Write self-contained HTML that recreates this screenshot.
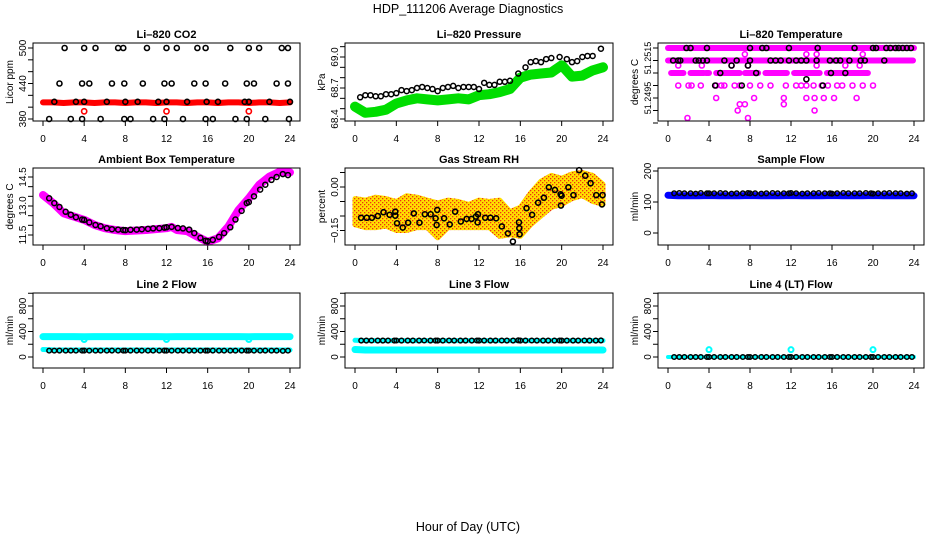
<!DOCTYPE html>
<html><head><meta charset="utf-8"><style>
html,body{margin:0;padding:0;background:#fff;}
svg{display:block;font-family:"Liberation Sans",Arial,sans-serif;}
</style></head><body>
<svg id="chart" width="936" height="540" viewBox="0 0 936 540">
<defs>
<pattern id="rhpat" width="4" height="4" patternUnits="userSpaceOnUse">
<rect width="4" height="4" fill="#ffe000"/><rect x="0" y="0" width="1.3" height="1.3" fill="#f03010"/><rect x="2" y="2" width="1.3" height="1.3" fill="#f03010"/>
</pattern>
</defs>
<text x="468" y="13" text-anchor="middle" font-size="12.5">HDP_111206  Average Diagnostics</text>
<text x="468" y="531" text-anchor="middle" font-size="12.5">Hour of Day (UTC)</text>
<g id="layer"></g>
</svg>
<script>
// ---- shared x grid (hours) ----
const gridX=[0.6,1.1,1.6,2.2,2.7,3.2,3.8,4.0,4.5,5.1,5.6,6.2,6.7,7.3,7.8,8.0,8.5,9.1,9.6,10.2,10.7,11.3,11.8,12.0,12.5,13.1,13.6,14.2,14.7,15.3,15.8,16.0,16.5,17.1,17.6,18.2,18.7,19.3,19.8,20.0,20.5,21.1,21.6,22.2,22.7,23.3,23.8];
const hours=[0,1,2,3,4,5,6,7,8,9,10,11,12,13,14,15,16,17,18,19,20,21,22,23,24];
const xTicks=[0,4,8,12,16,20,24];
// ---- CO2 ----
const co2RedY=[408,408,407,408,408,407,408,408,407,408,408,407,408,408,407,408,408,407,408,408,407,408,408,407,408];
const co2RedOutX=[4,12,20];
const co2RedOutY=[393,393,393];
const co2BlackX=[2.1,4,5.1,7.3,7.8,10.1,12,13,15,15.8,18.2,20,21,23.2,23.8,1.6,3.8,4.5,6.7,7.9,9.7,11.8,12.5,14.7,15.8,17.7,19.8,20.5,22.7,23.8,1.1,3.2,4,6.2,8,9.2,11.2,12,14,15.9,17,19.6,20,22,24,0.6,2.7,3.8,5.6,7.9,8.5,10.7,11.8,13.6,15.8,16.5,18.7,19.8,21.6,23.9];
const co2BlackY=[500,500,500,500,500,500,500,500,500,500,500,500,500,500,500,440,440,440,440,440,440,440,440,440,440,440,440,440,440,440,409,409,409,409,409,409,409,409,409,409,409,409,409,409,409,380,380,380,380,380,380,380,380,380,380,380,380,380,380,380];
// ---- Pressure ----
const presGreenY=[68.52,68.46,68.47,68.49,68.55,68.58,68.6,68.59,68.58,68.59,68.6,68.59,68.63,68.64,68.66,68.69,68.8,68.83,68.84,68.85,68.92,68.81,68.82,68.87,68.9];
const presBlackX=[0.5,1,1.5,2,2.5,3,3.5,4,4.5,5,5.5,6,6.5,7,7.5,8,8.5,9,9.5,10,10.5,11,11.5,12,12.5,13,13.5,14,14.5,15,15.8,16.5,17,17.5,18,18.5,19,19.8,20.5,21,21.5,22,22.5,23,23.8];
const presBlackY=[68.61,68.63,68.63,68.62,68.62,68.64,68.64,68.65,68.68,68.67,68.68,68.7,68.71,68.7,68.69,68.67,68.7,68.71,68.72,68.7,68.71,68.71,68.71,68.69,68.75,68.73,68.73,68.76,68.76,68.77,68.84,68.9,68.95,68.96,68.95,68.98,68.99,69.0,68.98,68.95,68.96,69.0,69.01,69.01,69.08];
// ---- Li-820 temperature ----
const tmpBandY=[51.2515,51.2514,51.2513,51.2513,51.2513,51.2513,51.2513,51.2513,51.2513];
const tmpBandStart=[0,0,0.3,2.2,3.7,4.7,7.5,9.5,12.3];
const tmpBandEnd=[24,23.9,1.5,3.5,4.0,7.0,8.8,11.6,14.8];
const tmpBand2Start=[15.5];
const tmpBand2End=[19.5];
const tmpMagX=[1,2,2.3,3.2,4.7,5.2,5.5,6.5,7,8,9,10,11.5,12.5,13,13.5,14.2,15,15.6,16.5,17,18,19,20,4.7,8.4,11.3,13.5,14.3,15.2,16.2,18.4,7,7.5,11.3,6.8,14.3,1.9,7.8,7.5,13.5,14.5,19,1,3.3,6.2,7.8,14.5,17.3,18.7];
const tmpMagY=[51.2512,51.2512,51.2512,51.2512,51.2512,51.2512,51.2512,51.2512,51.2512,51.2512,51.2512,51.2512,51.2512,51.2512,51.2512,51.2512,51.2512,51.2512,51.2512,51.2512,51.2512,51.2512,51.2512,51.2512,51.2511,51.2511,51.2511,51.2511,51.2511,51.2511,51.2511,51.2511,51.25105,51.25105,51.25105,51.251,51.251,51.25094,51.25094,51.25145,51.25145,51.25145,51.25145,51.25136,51.25136,51.25136,51.25136,51.25136,51.25136,51.25136];
const tmpBlackX=[1.8,2.2,3.8,8,9.2,9.6,11.8,14.6,18.2,20.0,20.3,21.3,21.7,22.2,22.5,22.9,23.3,23.7,0.5,1,1.2,2.7,3,3.4,3.8,5.5,6.7,8,10,10.5,11,11.8,12.5,13,13.5,14.5,15.8,16.4,16.8,17.7,18.8,19.2,21.1,6.2,7.8,5.1,8.6,15.9,17.3,4.6,7.2,15.1,13.5];
const tmpBlackY=[51.2515,51.2515,51.2515,51.2515,51.2515,51.2515,51.2515,51.2515,51.2515,51.2515,51.2515,51.2515,51.2515,51.2515,51.2515,51.2515,51.2515,51.2515,51.2514,51.2514,51.2514,51.2514,51.2514,51.2514,51.2514,51.2514,51.2514,51.2514,51.2514,51.2514,51.2514,51.2514,51.2514,51.2514,51.2514,51.2514,51.2514,51.2514,51.2514,51.2514,51.2514,51.2514,51.2514,51.25136,51.25136,51.2513,51.2513,51.2513,51.2513,51.2512,51.2512,51.2512,51.25125];
// ---- Ambient box temperature ----
const ambMagX=[0,1,2,3,4,5,6,7,8,10,12,12.5,13,14,15,16,17,18,19,20,21,22,23,24];
const ambMagY=[13.57,13.14,12.62,12.45,12.28,12.02,11.85,11.76,11.7,11.76,11.85,11.92,11.76,11.7,11.41,11.15,11.33,11.93,12.79,13.4,14.09,14.52,14.77,14.74];
const ambBlackY=[13.4,13.15,12.95,12.7,12.55,12.42,12.3,12.28,12.15,12.02,11.95,11.85,11.8,11.78,11.76,11.75,11.77,11.78,11.8,11.82,11.84,11.85,11.88,11.9,11.92,11.86,11.84,11.78,11.6,11.35,11.2,11.18,11.25,11.4,11.6,11.9,12.3,12.75,13.15,13.2,13.5,13.85,14.1,14.35,14.5,14.65,14.6];
// ---- Gas stream RH ----
const rhHi=[-0.04,-0.045,-0.035,-0.04,-0.05,-0.03,-0.035,-0.045,-0.055,-0.045,-0.05,-0.06,-0.045,-0.05,-0.045,-0.085,-0.07,-0.02,0.02,0.04,0.03,0.045,0.05,0.04,0.01];
const rhLo=[-0.13,-0.14,-0.14,-0.135,-0.15,-0.15,-0.14,-0.14,-0.175,-0.14,-0.14,-0.14,-0.14,-0.14,-0.17,-0.165,-0.17,-0.13,-0.1,-0.07,-0.06,-0.04,-0.03,-0.05,-0.06];
const rhBlackX=[0.59,1.14,1.63,2.21,2.76,3.35,3.9,3.9,4.07,4.62,5.14,5.69,6.24,6.76,7.32,7.8,7.9,7.96,8.62,9.17,9.69,10.24,10.8,11.28,11.7,11.87,11.9,12.6,13.1,13.66,14.21,14.8,15.28,15.87,15.9,15.93,16.6,17.14,17.72,18.28,18.76,19.35,19.9,19.93,19.99,20.65,21.14,21.69,22.28,22.8,23.35,23.9,23.96];
const rhBlackY=[-0.106,-0.106,-0.106,-0.1,-0.087,-0.096,-0.099,-0.085,-0.125,-0.14,-0.123,-0.091,-0.123,-0.094,-0.094,-0.108,-0.131,-0.079,-0.108,-0.129,-0.085,-0.119,-0.11,-0.11,-0.102,-0.122,-0.094,-0.106,-0.106,-0.108,-0.136,-0.16,-0.188,-0.122,-0.142,-0.163,-0.073,-0.096,-0.054,-0.037,-0.001,-0.01,-0.025,-0.064,-0.03,-0.001,-0.028,0.058,0.039,0.013,-0.028,-0.06,-0.028];
// ---- Flows ----
const sampleBlue=[122,120,120,120,121,120,120,120,121,120,120,120,121,120,120,120,121,120,120,120,121,120,120,120,120];
const sampleBlack=[128,129,128,128,127,129,128,128,128,129,128,127,128,128,129,128,128,127,128,129,128,128,128,129,128,127,128,128,129,128,128,127,128,129,128,128,128,129,128,127,128,128,129,128,128,127,128];
const line2CyanHi=[320,320,320,320,318,320,320,320,320,320,320,320,318,320,320,320,320,320,320,320,318,320,320,320,320];
const line2DipX=[4,12,20];
const line2DipY=[275,275,275];
const line2CyanLo=[118,112,110,110,110,110,110,110,110,110,110,110,110,110,110,110,110,110,110,110,110,110,110,110,110];
const line2Black=[100,100,101,100,100,100,100,101,100,100,100,100,101,100,100,100,100,101,100,100,100,100,101,100,100,100,100,101,100,100,100,100,101,100,100,100,100,101,100,100,100,100,101,100,100,96,100];
const line3CyanHi=[262,258,258,258,258,258,258,258,258,258,258,258,258,258,258,258,258,258,258,258,258,258,258,258,258];
const line3CyanLo=[118,110,110,110,110,110,110,110,110,110,110,110,110,110,110,110,110,110,110,110,110,110,110,110,110];
const line3Black=[258,258,259,258,258,258,258,259,258,258,258,258,259,258,258,258,258,259,258,258,258,258,259,258,258,258,258,259,258,258,262,258,258,259,258,258,258,258,259,258,258,258,258,259,258,258,260];
const line4Cyan=[0,0,0,0,0,0,0,0,0,0,0,0,0,0,0,0,0,0,0,0,0,0,0,0,0];
const line4SpikeX=[4,12,20];
const line4SpikeY=[115,115,115];
const line4Black=[0,0,0,0,0,0,0,0,0,0,0,0,0,0,0,0,0,0,0,0,0,0,0,0,0,0,0,0,0,0,0,0,0,0,0,0,0,0,0,0,0,0,0,0,0,0,0];

const NS='http://www.w3.org/2000/svg';
const layer=document.getElementById('layer');
function mk(tag,attrs,parent){const e=document.createElementNS(NS,tag);for(const k in attrs)e.setAttribute(k,attrs[k]);(parent||layer).appendChild(e);return e;}
const cols=[[33,300],[345,613],[658,924]];
const rows=[[43,121],[168,245],[293,368]];
function panel(ci,ri,name,title,ylab,v1,p1,v2,p2,yticks,ylabels,yfs){
  const [L,R]=cols[ci],[T,B]=rows[ri];
  const g=mk('g',{});
  
  
  const P={g,L,R,T,B};
  P.sx=h=>L+10+h*(R-L-20)/24;
  P.sy=v=>p1+(v-v1)*(p2-p1)/(v2-v1);
  const t=mk('text',{x:(L+R)/2,y:T-5,'text-anchor':'middle','font-size':11,'font-weight':'bold'},g);
  t.textContent=title;
  
  
  const yl=mk('text',{x:0,y:0,transform:`translate(${L-20},${(T+B)/2}) rotate(-90)`,'text-anchor':'middle','font-size':10},g);
  yl.textContent=ylab;
  
  
  const xa=mk('g',{},g);
  
  
  mk('line',{x1:P.sx(xTicks[0]),x2:P.sx(xTicks[xTicks.length-1]),y1:B,y2:B,stroke:'#000'},xa);
  xTicks.forEach(h=>{
    mk('line',{x1:P.sx(h),x2:P.sx(h),y1:B,y2:B+5,stroke:'#000'},xa);
    const tl=mk('text',{x:P.sx(h),y:B+21,'text-anchor':'middle','font-size':10},xa);
    tl.textContent=h;
  });
  const ya=mk('g',{},g);
  
  
  yticks.forEach(v=>{mk('line',{x1:L-5,x2:L,y1:P.sy(v),y2:P.sy(v),stroke:'#000'},ya);});
  ylabels.forEach(([v,s])=>{
    const tl=mk('text',{x:0,y:0,transform:`translate(${L-7},${P.sy(v)}) rotate(-90)`,'text-anchor':'middle','font-size':yfs||10},ya);
    tl.textContent=s;
  });
  P.marks=mk('g',{},g);
  
  
  const box=mk('rect',{x:L,y:T,width:R-L,height:B-T,fill:'none',stroke:'#000','stroke-width':1},g);
  
  
  return P;
}
function pts(P,xs,ys,color,r,sw,nm){
  const n=Math.min(xs.length,ys.length);
  for(let i=0;i<n;i++){
    const c=mk('circle',{cx:P.sx(xs[i]),cy:P.sy(ys[i]),r:r,fill:'none',stroke:color,'stroke-width':sw},P.marks);
    
    
  }
}
function band(P,xs,ys,color,w,nm){
  const n=Math.min(xs.length,ys.length);
  let d='';
  for(let i=0;i<n;i++)d+=(i?'L':'M')+P.sx(xs[i]).toFixed(1)+','+P.sy(ys[i]).toFixed(1);
  const p=mk('path',{d,fill:'none',stroke:color,'stroke-width':w,'stroke-linecap':'round','stroke-linejoin':'round'},P.marks);
  
  
}
const range=(a,b,s)=>{const o=[];for(let v=a;v<=b+1e-9;v+=s)o.push(+v.toFixed(6));return o;};

// Panel 1 CO2
const p1=panel(0,0,'co2-panel','Li\u2013820 CO2','Licor ppm',380,119,500,48,range(380,500,20),[[380,'380'],[440,'440'],[500,'500']]);
band(p1,hours,co2RedY,'#ff0000',6,'co2-red-series');
pts(p1,co2RedOutX,co2RedOutY,'#ff0000',2.6,1.6,'co2-red-outlier');
pts(p1,co2BlackX,co2BlackY,'#000',2.5,1.6,'co2-black-point');
// Panel 2 Pressure
const p2=panel(1,0,'pressure-panel','Li\u2013820 Pressure','kPa',68.4,119,69.0,57,range(68.4,69.1,0.1),[[68.4,'68.4'],[68.7,'68.7'],[69.0,'69.0']]);
band(p2,hours,presGreenY,'#00dd00',10,'pressure-green-series');
pts(p2,presBlackX,presBlackY,'#000',2.5,1.5,'pressure-black-point');
// Panel 3 Li-820 temperature
const p3=panel(2,0,'li820-temperature-panel','Li\u2013820 Temperature','degrees C',51.2515,48,51.2509,123,range(51.2509,51.2515,0.0001),[[51.25142,'51.2515'],[51.2511,'51.2495']],9);
for(let i=0;i<tmpBandStart.length;i++){
  band(p3,[tmpBandStart[i],tmpBandEnd[i]],[tmpBandY[i],tmpBandY[i]],'#ff00ff',6,'temperature-magenta-band');
}
for(let i=0;i<tmpBand2Start.length;i++){
  band(p3,[tmpBand2Start[i],tmpBand2End[i]],[51.2513,51.2513],'#ff00ff',6,'temperature-magenta-band');
}
pts(p3,tmpMagX,tmpMagY,'#ff00ff',2.5,1.6,'temperature-magenta-point');
pts(p3,tmpBlackX,tmpBlackY,'#000',2.5,1.6,'temperature-black-point');
// Panel 4 Ambient
const p4=panel(0,1,'ambient-temperature-panel','Ambient Box Temperature','degrees C',11.5,235,14.5,177,range(11.5,14.5,0.5),[[11.5,'11.5'],[13.0,'13.0'],[14.5,'14.5']]);
band(p4,ambMagX,ambMagY,'#ff00ff',8,'ambient-magenta-series');
pts(p4,gridX,ambBlackY,'#000',2.5,1.5,'ambient-black-point');
// Panel 5 RH
const p5=panel(1,1,'gas-stream-rh-panel','Gas Stream RH','percent',0,187,-0.15,230.5,[0.05,0,-0.05,-0.1,-0.15],[[0,'0.00'],[-0.15,'\u22120.15']]);
{
  let d='';
  hours.forEach((h,i)=>{d+=(i?'L':'M')+p5.sx(h).toFixed(1)+','+p5.sy(rhHi[i]).toFixed(1);});
  for(let i=hours.length-1;i>=0;i--)d+='L'+p5.sx(hours[i]).toFixed(1)+','+p5.sy(rhLo[i]).toFixed(1);
  const poly=mk('path',{d:d+'Z',fill:'url(#rhpat)',stroke:'url(#rhpat)','stroke-width':5,'stroke-linejoin':'round'},p5.marks);
  
  
}
pts(p5,rhBlackX,rhBlackY,'#000',2.5,1.6,'rh-black-point');
// Panel 6 Sample flow
const p6=panel(2,1,'sample-flow-panel','Sample Flow','ml/min',0,233,200,171,[0,100,200],[[0,'0'],[100,'100'],[200,'200']]);
band(p6,hours,sampleBlue,'#0000ff',7,'sample-blue-series');
pts(p6,gridX,sampleBlack,'#000',2.3,1.5,'sample-black-point');
// Panel 7 Line 2
const p7=panel(0,2,'line2-flow-panel','Line 2 Flow','ml/min',0,357,800,306,range(0,1000,200),[[0,'0'],[400,'400'],[800,'800']]);
band(p7,hours,line2CyanHi,'#00ffff',7,'line2-cyan-high');
pts(p7,line2DipX,line2DipY,'#00ffff',2.5,2,'line2-cyan-dip');
band(p7,hours,line2CyanLo,'#00ffff',5,'line2-cyan-low');
pts(p7,gridX,line2Black,'#000',2.3,1.5,'line2-black-point');
// Panel 8 Line 3
const p8=panel(1,2,'line3-flow-panel','Line 3 Flow','ml/min',0,357,800,306,range(0,1000,200),[[0,'0'],[400,'400'],[800,'800']]);
band(p8,hours,line3CyanHi,'#00ffff',5,'line3-cyan-high');
band(p8,hours,line3CyanLo,'#00ffff',7,'line3-cyan-low');
pts(p8,gridX,line3Black,'#000',2.3,1.5,'line3-black-point');
// Panel 9 Line 4
const p9=panel(2,2,'line4-flow-panel','Line 4 (LT) Flow','ml/min',0,357,800,306,range(0,1000,200),[[0,'0'],[400,'400'],[800,'800']]);
band(p9,hours,line4Cyan,'#00ffff',4,'line4-cyan-series');
pts(p9,line4SpikeX,line4SpikeY,'#00ffff',2.5,2,'line4-cyan-spike');
pts(p9,gridX,line4Black,'#000',2.3,1.5,'line4-black-point');
</script>
</body></html>
